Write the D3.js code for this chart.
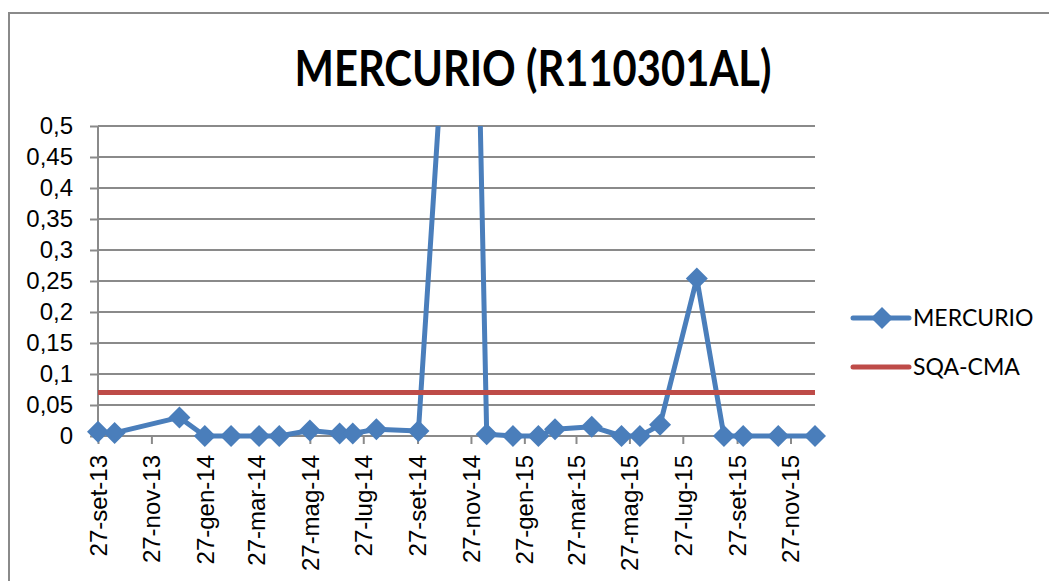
<!DOCTYPE html>
<meta charset="utf-8">
<style>
body { margin: 0; background: #fff; }
svg { font-family: Lato, "Open Sans", sans-serif; }
.grid line { stroke: #8a8a8a; stroke-width: 2px; }
.axis path, .axis line { stroke: #8a8a8a; stroke-width: 2px; }
.axis text { font-size: 24px; fill: #000; }
.line { fill: none; stroke-width: 5px; stroke-linejoin: round; }
</style>
<svg width="1049" height="581"></svg>
<script src="https://cdn.jsdelivr.net/npm/d3@7"></script>
<script>

// sample dates and mercury values (mg/l)
var sampleDates = ["2013-09-27", "2013-10-16", "2013-12-29", "2014-01-27", "2014-02-26",
  "2014-03-30", "2014-04-22", "2014-05-27", "2014-06-30", "2014-07-15", "2014-08-11",
  "2014-09-28", "2014-11-26", "2014-12-15", "2015-01-14", "2015-02-12", "2015-03-03",
  "2015-04-14", "2015-05-18", "2015-06-08", "2015-07-01", "2015-08-12", "2015-09-12",
  "2015-10-04", "2015-11-13", "2015-12-25"];
var mercurio = [0.007, 0.005, 0.03, 0, 0,
  0, 0, 0.009, 0.004, 0.004, 0.011,
  0.008, 1.3, 0.003, 0, 0, 0.011,
  0.015, 0, 0, 0.018, 0.254, 0,
  0, 0, 0];
// quality standard limit
var sqaCma = 0.07;
var xTickDates = ["2013-09-27", "2013-11-27", "2014-01-27", "2014-03-27", "2014-05-27",
  "2014-07-27", "2014-09-27", "2014-11-27", "2015-01-27", "2015-03-27", "2015-05-27",
  "2015-07-27", "2015-09-27", "2015-11-27"];
var seriesNames = ["MERCURIO", "SQA-CMA"];
var title = "MERCURIO (R110301AL)";

var blue = "#4a7ebb", red = "#be4b48";

var parseDate = d3.timeParse("%Y-%m-%d");
var itTime = d3.timeFormatLocale({
  dateTime: "%A %e %B %Y, %X", date: "%d/%m/%Y", time: "%H:%M:%S",
  periods: ["AM", "PM"],
  days: ["domenica", "lunedì", "martedì", "mercoledì", "giovedì", "venerdì", "sabato"],
  shortDays: ["dom", "lun", "mar", "mer", "gio", "ven", "sab"],
  months: ["gennaio", "febbraio", "marzo", "aprile", "maggio", "giugno", "luglio",
    "agosto", "settembre", "ottobre", "novembre", "dicembre"],
  shortMonths: ["gen", "feb", "mar", "apr", "mag", "giu", "lug", "ago", "set", "ott", "nov", "dic"]
});
var itNum = d3.formatLocale({decimal: ",", thousands: ".", grouping: [3], currency: ["€", ""]});
var fmtDate = itTime.format("%d-%b-%y"),
    fmtNum = itNum.format(".2~f");

var data = sampleDates.map(function(d, i) { return {date: parseDate(d), value: mercurio[i]}; });

var svg = d3.select("svg"),
    margin = {top: 126, right: 234, bottom: 145, left: 98},
    width = +svg.attr("width") - margin.left - margin.right,
    height = +svg.attr("height") - margin.top - margin.bottom;

// chart frame
svg.append("rect")
    .attr("x", 9).attr("y", 13)
    .attr("width", 1100).attr("height", 700)
    .attr("fill", "#fff")
    .attr("stroke", "#8a8a8a").attr("stroke-width", 2);

svg.append("text")
    .attr("x", 533).attr("y", 86)
    .attr("text-anchor", "middle")
    .attr("textLength", 477)
    .attr("lengthAdjust", "spacingAndGlyphs")
    .style("font-size", "50px").style("font-weight", "bold")
    .text(title);

var g = svg.append("g").attr("transform", "translate(" + margin.left + "," + margin.top + ")");

var x = d3.scaleTime()
    .domain(d3.extent(data, function(d) { return d.date; }))
    .range([0, width]);
var y = d3.scaleLinear().domain([0, 0.5]).range([height, 0]);

// horizontal gridlines
g.append("g").attr("class", "grid")
  .selectAll("line")
  .data(y.ticks(10).slice(1))
  .enter().append("line")
    .attr("x1", 0).attr("x2", width)
    .attr("y1", function(d) { return y(d); })
    .attr("y2", function(d) { return y(d); });

g.append("g")
    .attr("class", "axis axis--y")
    .call(d3.axisLeft(y).ticks(10).tickSize(8).tickPadding(17).tickFormat(fmtNum))
    .call(function(a) { a.select(".domain").attr("d", "M0," + height + "V0"); });

var xAxis = g.append("g")
    .attr("class", "axis axis--x")
    .attr("transform", "translate(0," + height + ")")
    .call(d3.axisBottom(x).tickValues(xTickDates.map(parseDate)).tickSize(8).tickFormat(fmtDate));
xAxis.select(".domain").attr("d", "M0,0H" + width);
xAxis.selectAll("text")
    .attr("transform", "rotate(-90)")
    .attr("x", -19).attr("y", 0)
    .attr("dy", "0.35em")
    .style("text-anchor", "end");

// clip lines that leave the top of the plot
svg.append("clipPath").attr("id", "clip")
  .append("rect")
    .attr("x", -40).attr("y", 0)
    .attr("width", width + 80).attr("height", height + 40);

var line = d3.line()
    .x(function(d) { return x(d.date); })
    .y(function(d) { return y(d.value); });

g.append("path")
    .datum(data)
    .attr("class", "line")
    .attr("clip-path", "url(#clip)")
    .attr("stroke", blue)
    .attr("d", line);

var diamond = "M0,-11L11,0L0,11L-11,0Z";

g.selectAll(".pt")
  .data(data.filter(function(d) { return d.value <= y.domain()[1]; }))
  .enter().append("path")
    .attr("class", "pt")
    .attr("d", diamond)
    .attr("fill", blue)
    .attr("transform", function(d) { return "translate(" + x(d.date) + "," + y(d.value) + ")"; });

g.append("path")
    .datum([{date: x.domain()[0], value: sqaCma}, {date: x.domain()[1], value: sqaCma}])
    .attr("class", "line")
    .attr("stroke", red)
    .attr("d", line);

// legend
var legend = svg.selectAll(".legend")
  .data(seriesNames)
  .enter().append("g")
    .attr("class", "legend")
    .attr("transform", function(d, i) { return "translate(853," + (318 + i * 49) + ")"; });

legend.append("line")
    .attr("x1", 0).attr("x2", 56)
    .attr("stroke", function(d, i) { return i ? red : blue; })
    .attr("stroke-width", 5)
    .attr("stroke-linecap", "round");

legend.filter(function(d, i) { return i === 0; })
  .append("path")
    .attr("d", diamond)
    .attr("fill", blue)
    .attr("transform", "translate(29,0)");

legend.append("text")
    .attr("x", 60)
    .attr("dy", "0.35em")
    .style("font-size", "23px")
    .text(function(d) { return d; });

</script>
